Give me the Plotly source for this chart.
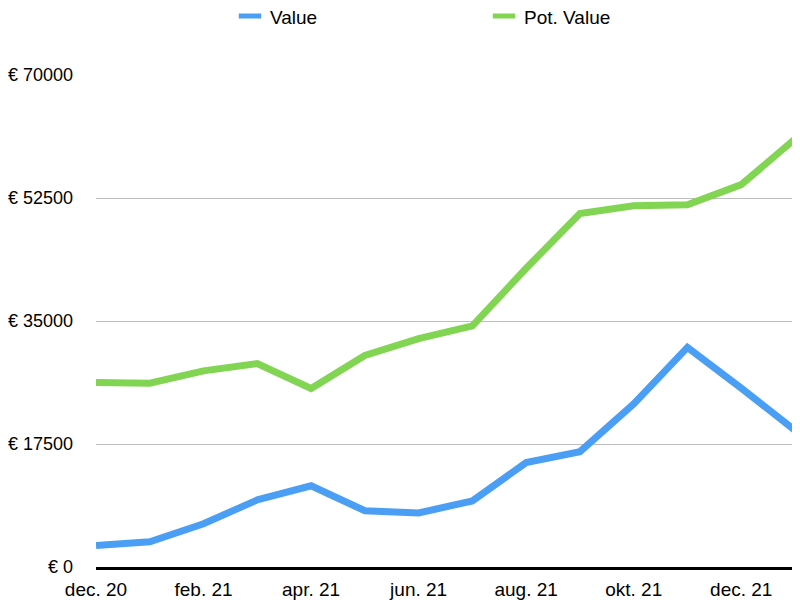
import plotly.graph_objects as go

months = ["dec. 20", "jan. 21", "feb. 21", "mar. 21", "apr. 21", "maj. 21", "jun. 21",
          "jul. 21", "aug. 21", "sep. 21", "okt. 21", "nov. 21", "dec. 21", "jan. 22"]
value = [3050, 3600, 6150, 9550, 11550, 8000, 7700, 9400, 14850, 16400, 23200, 31250, 25450, 19450]
pot_value = [26250, 26150, 27900, 28950, 25400, 30100, 32500, 34300, 42500, 50300, 51400, 51550, 54400, 60900]
x_ticks = ["dec. 20", "feb. 21", "apr. 21", "jun. 21", "aug. 21", "okt. 21", "dec. 21"]
y_ticks = [0, 17500, 35000, 52500, 70000]
y_labels = ["€ " + str(v) for v in y_ticks]

blue = "#4a9ff5"
green = "#81d552"
font = "Liberation Sans"

fig = go.Figure()
# plotted lines, legend handled by the marker-only entries below
fig.add_trace(go.Scatter(x=months, y=value, mode="lines", line=dict(color=blue, width=7),
                         showlegend=False, hoverinfo="skip"))
fig.add_trace(go.Scatter(x=months, y=pot_value, mode="lines", line=dict(color=green, width=7),
                         showlegend=False, hoverinfo="skip"))
fig.add_trace(go.Scatter(x=[None], y=[None], mode="markers", name="Value",
                         marker=dict(symbol="line-ew-open", size=16, color=blue, line=dict(color=blue, width=5))))
fig.add_trace(go.Scatter(x=[None], y=[None], mode="markers", name="Pot. Value",
                         marker=dict(symbol="line-ew-open", size=16, color=green, line=dict(color=green, width=5))))

# page body adds an 8px offset, margins compensate for it
fig.update_layout(
    width=800, height=600,
    margin=dict(l=88, r=13, t=67, b=41, autoexpand=False),
    paper_bgcolor="white", plot_bgcolor="white",
    font=dict(family=font, size=19, color="black"),
    legend=dict(orientation="h", xref="container", x=0.2775, xanchor="left",
                yref="paper", y=1.158, yanchor="top", entrywidth=209, entrywidthmode="pixels",
                font=dict(size=19), bgcolor="rgba(0,0,0,0)"),
    xaxis=dict(type="category", categoryorder="array", categoryarray=months,
               range=[0, len(months) - 1], tickvals=x_ticks, ticktext=x_ticks,
               showgrid=False, showline=True, linecolor="black", linewidth=2.5,
               ticks="", ticklabelstandoff=3, zeroline=False, automargin=False),
    yaxis=dict(range=[0, 70000], tickvals=y_ticks, ticktext=y_labels, tickfont=dict(size=18),
               showgrid=True, gridcolor="#bdbdbd", gridwidth=1, zeroline=False,
               ticks="", ticklabelstandoff=22, automargin=False),
)

fig.write_html("out.html")
